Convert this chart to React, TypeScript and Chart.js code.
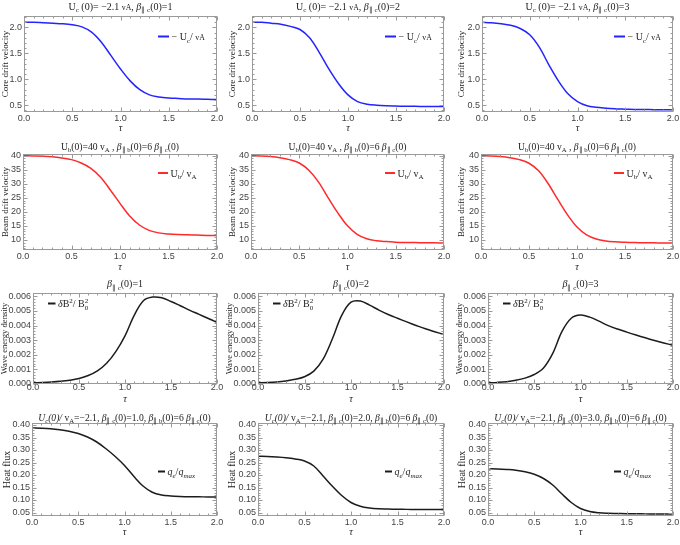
import React, { useEffect, useRef } from 'react';
import { Chart, registerables } from 'chart.js';

Chart.register(...registerables);

// ---------------- data ----------------
const tau = [0, 0.1, 0.2, 0.3, 0.4, 0.5, 0.6, 0.7, 0.8, 0.9, 1.0, 1.1, 1.2, 1.3, 1.4, 1.5, 1.6, 1.7, 1.8, 1.9, 2.0];

const coreDriftBeta1 = [2.10, 2.10, 2.09, 2.08, 2.07, 2.05, 2.01, 1.91, 1.72, 1.46, 1.20, 0.97, 0.80, 0.70, 0.66, 0.64, 0.63, 0.62, 0.62, 0.615, 0.61];
const coreDriftBeta2 = [2.10, 2.10, 2.08, 2.06, 2.02, 1.96, 1.80, 1.52, 1.20, 0.92, 0.70, 0.57, 0.52, 0.50, 0.49, 0.485, 0.48, 0.48, 0.475, 0.475, 0.475];
const coreDriftBeta3 = [2.10, 2.09, 2.07, 2.04, 1.98, 1.86, 1.62, 1.28, 0.97, 0.72, 0.57, 0.49, 0.46, 0.44, 0.43, 0.425, 0.42, 0.42, 0.415, 0.415, 0.41];

const beamDriftBeta1 = [40.0, 39.9, 39.8, 39.6, 39.2, 38.6, 37.4, 35.5, 32.3, 27.8, 23.0, 18.5, 15.3, 13.4, 12.5, 12.1, 11.9, 11.8, 11.7, 11.6, 11.6];
const beamDriftBeta2 = [40.0, 39.9, 39.7, 39.3, 38.6, 37.4, 34.8, 30.6, 25.0, 19.6, 15.0, 12.0, 10.4, 9.7, 9.4, 9.2, 9.1, 9.05, 9.0, 8.95, 8.9];
const beamDriftBeta3 = [40.0, 39.9, 39.7, 39.3, 38.6, 37.3, 34.6, 30.0, 24.4, 19.0, 14.6, 11.8, 10.3, 9.6, 9.3, 9.15, 9.05, 9.0, 8.95, 8.9, 8.9];

const waveEnergyBeta1 = [0.00008, 0.0001, 0.00013, 0.00018, 0.00026, 0.00038, 0.00058, 0.0009, 0.00142, 0.00222, 0.0033, 0.0047, 0.0057, 0.00595, 0.0059, 0.00565, 0.00536, 0.00506, 0.00478, 0.0045, 0.00423];
const waveEnergyBeta2 = [0.00008, 0.0001, 0.00014, 0.00021, 0.00032, 0.0005, 0.00088, 0.0017, 0.0031, 0.0047, 0.0056, 0.00568, 0.0054, 0.00506, 0.00476, 0.0045, 0.00425, 0.00401, 0.00378, 0.00358, 0.00339];
const waveEnergyBeta3 = [0.00008, 0.00011, 0.00016, 0.00025, 0.0004, 0.00065, 0.0011, 0.0021, 0.0036, 0.0045, 0.00472, 0.00458, 0.0043, 0.004, 0.00376, 0.00355, 0.00335, 0.00316, 0.00298, 0.00281, 0.00265];

const heatFluxBeta1 = [0.388, 0.387, 0.385, 0.381, 0.375, 0.366, 0.352, 0.332, 0.305, 0.274, 0.238, 0.195, 0.156, 0.131, 0.120, 0.116, 0.114, 0.113, 0.113, 0.112, 0.112];
const heatFluxBeta2 = [0.275, 0.274, 0.272, 0.269, 0.264, 0.256, 0.236, 0.196, 0.155, 0.118, 0.090, 0.075, 0.068, 0.065, 0.064, 0.063, 0.0625, 0.062, 0.062, 0.062, 0.062];
const heatFluxBeta3 = [0.225, 0.224, 0.222, 0.219, 0.213, 0.203, 0.186, 0.160, 0.124, 0.090, 0.066, 0.054, 0.049, 0.047, 0.046, 0.045, 0.045, 0.0445, 0.0445, 0.044, 0.044];

const xTicks = [0, 0.5, 1.0, 1.5, 2.0];
const coreTicks = [0.5, 1.0, 1.5, 2.0];
const beamTicks = [10, 15, 20, 25, 30, 35, 40];
const waveTicks = [0, 0.001, 0.002, 0.003, 0.004, 0.005, 0.006];
const heatTicks = [0.05, 0.10, 0.15, 0.20, 0.25, 0.30, 0.35, 0.40];

const betaValues = ['1', '2', '3'];
const betaDecimals = ['1.0', '2.0', '3.0'];

// ---------------- styling ----------------
const W = 680;
const H = 545;
const SERIF = '"Liberation Serif", "Times New Roman", serif';
const SANS = '"Liberation Sans", Arial, sans-serif';
const BLUE = '#2424ff';
const RED = '#ff2a2a';
const BLACK = '#1c1c1c';
const FRAME = '#9a9a9a';

type Seg = { t: string; s?: 'sub' | 'sup'; i?: boolean; small?: boolean; sub?: string };

function segFont(seg: Seg, size: number) {
  const sz = seg.s ? size * 0.7 : seg.small ? size * 0.78 : size;
  return (seg.i ? 'italic ' : '') + sz.toFixed(2) + 'px ' + SERIF;
}
function segWidth(ctx: CanvasRenderingContext2D, seg: Seg, size: number) {
  ctx.font = segFont(seg, size);
  let w = ctx.measureText(seg.t).width;
  if (seg.sub) w = Math.max(w, ctx.measureText(seg.sub).width);
  return w;
}
function drawRich(ctx: CanvasRenderingContext2D, segs: Seg[], x: number, y: number, size: number, align: 'center' | 'left') {
  const total = segs.reduce((a, s) => a + segWidth(ctx, s, size), 0);
  let cx = align === 'center' ? x - total / 2 : x;
  ctx.textBaseline = 'alphabetic';
  ctx.textAlign = 'left';
  for (const seg of segs) {
    const w = segWidth(ctx, seg, size);
    ctx.font = segFont(seg, size);
    let dy = 0;
    if (seg.s === 'sub') dy = size * 0.25;
    if (seg.s === 'sup') dy = -size * 0.4;
    ctx.fillText(seg.t, cx, y + dy);
    if (seg.sub) ctx.fillText(seg.sub, cx, y + size * 0.28);
    cx += w;
  }
}

const titleCore = (b: string): Seg[] => [
  { t: 'U' }, { t: 'c', s: 'sub' }, { t: ' (0)= \u22122.1 ' }, { t: 'vA', small: true }, { t: ', ' },
  { t: '\u03b2', i: true }, { t: '\u2225 c', s: 'sub' }, { t: '(0)=' + b },
];
const titleBeam = (): Seg[] => [
  { t: 'U' }, { t: 'b', s: 'sub' }, { t: '(0)=40 v' }, { t: 'A', s: 'sub' }, { t: ' , ' },
  { t: '\u03b2', i: true }, { t: '\u2225 b', s: 'sub' }, { t: '(0)=6 ' },
  { t: '\u03b2', i: true }, { t: '\u2225 c', s: 'sub' }, { t: '(0)' },
];
const titleWave = (b: string): Seg[] => [
  { t: '\u03b2', i: true }, { t: '\u2225 c', s: 'sub' }, { t: '(0)=' + b },
];
const titleHeat = (b: string): Seg[] => [
  { t: 'U', i: true }, { t: 'c', s: 'sub', i: true }, { t: '(0)/ ', i: true }, { t: 'v' }, { t: 'A', s: 'sub' },
  { t: '=\u22122.1, ' }, { t: '\u03b2', i: true }, { t: '\u2225 c', s: 'sub' }, { t: '(0)=' + b + ', ' },
  { t: '\u03b2', i: true }, { t: '\u2225 b', s: 'sub' }, { t: '(0)=6 ' },
  { t: '\u03b2', i: true }, { t: '\u2225 c', s: 'sub' }, { t: '(0)' },
];

const legendCore: Seg[] = [{ t: '\u2212 U' }, { t: 'c', s: 'sub' }, { t: '/ ' }, { t: 'vA', small: true }];
const legendBeam: Seg[] = [{ t: 'U' }, { t: 'b', s: 'sub' }, { t: '/ v' }, { t: 'A', s: 'sub' }];
const legendWave: Seg[] = [{ t: '\u03b4', i: true }, { t: 'B' }, { t: '2', s: 'sup' }, { t: '/ B' }, { t: '2', s: 'sup', sub: '0' }];
const legendHeat: Seg[] = [{ t: 'q', i: true }, { t: 'e', s: 'sub', i: true }, { t: '/' }, { t: 'q', i: true }, { t: 'max', s: 'sub', i: true }];

interface PanelCfg {
  L: number; T: number; R: number; B: number;
  yTitleX: number; yTitleSize: number; xTitleY: number; xTickPad: number;
  yMin: number; yMax: number; yTicks: number[]; yDec: number; yTitle: string;
  data: number[]; color: string;
  title: Seg[]; titleY: number; titleSize: number;
  legend: Seg[]; legX: number; legY: number; legLen: number;
}

// layout of the 4 rows / 3 columns (plot areas)
const rowGeom = [
  { T: 16, B: 112, xTitleY: 128.5, xTickPad: 2, titleY: 9.5, titleSize: 10, yTitleSize: 9, legOffY: 20.5, legLen: 11 },
  { T: 154, B: 250, xTitleY: 267, xTickPad: 2, titleY: 149.5, titleSize: 9.6, yTitleSize: 9, legOffY: 19, legLen: 10 },
  { T: 293, B: 384, xTitleY: 399.5, xTickPad: -1, titleY: 287, titleSize: 10, yTitleSize: 8.6, legOffY: 10.5, legLen: 7.5 },
  { T: 423, B: 516, xTitleY: 532, xTickPad: 2, titleY: 421, titleSize: 9.6, yTitleSize: 10, legOffY: 48.5, legLen: 7 },
];
const colL = [[24, 252, 482], [23, 251, 481], [33, 258, 488], [32, 258, 488]];
const colR = [217, 444, 673];
const yTitleXs = [[5.7, 233, 462], [5.2, 232.3, 461.7], [5, 230, 460], [7, 232.3, 462.3]];

const rowSpec = [
  { series: [coreDriftBeta1, coreDriftBeta2, coreDriftBeta3], color: BLUE, yMin: 0.37, yMax: 2.22, yTicks: coreTicks, yDec: 1, yTitle: 'Core drift velocity', legend: legendCore, title: (k: number) => titleCore(betaValues[k]) },
  { series: [beamDriftBeta1, beamDriftBeta2, beamDriftBeta3], color: RED, yMin: 6.4, yMax: 40.6, yTicks: beamTicks, yDec: 0, yTitle: 'Beam drift velocity', legend: legendBeam, title: (_k: number) => titleBeam() },
  { series: [waveEnergyBeta1, waveEnergyBeta2, waveEnergyBeta3], color: BLACK, yMin: 0, yMax: 0.00623, yTicks: waveTicks, yDec: 3, yTitle: 'Wave energy density', legend: legendWave, title: (k: number) => titleWave(betaValues[k]) },
  { series: [heatFluxBeta1, heatFluxBeta2, heatFluxBeta3], color: BLACK, yMin: 0.036, yMax: 0.408, yTicks: heatTicks, yDec: 2, yTitle: 'Heat flux', legend: legendHeat, title: (k: number) => titleHeat(betaDecimals[k]) },
];

const panels: PanelCfg[] = [];
rowSpec.forEach((rs, r) => {
  const g = rowGeom[r];
  for (let c = 0; c < 3; c++) {
    const L = colL[r][c];
    const R = colR[c];
    panels.push({
      L, T: g.T, R, B: g.B,
      yTitleX: yTitleXs[r][c], yTitleSize: g.yTitleSize, xTitleY: g.xTitleY, xTickPad: g.xTickPad,
      yMin: rs.yMin, yMax: rs.yMax, yTicks: rs.yTicks, yDec: rs.yDec, yTitle: rs.yTitle,
      data: rs.series[c], color: rs.color,
      title: rs.title(c), titleY: g.titleY, titleSize: g.titleSize,
      legend: rs.legend,
      legX: r === 2 ? L + 15 : R - 59,
      legY: g.T + g.legOffY, legLen: g.legLen,
    });
  }
});

function minorTicks(major: number[], min: number, max: number, div: number) {
  const step = (major[1] - major[0]) / div;
  const out: number[] = [];
  const start = Math.ceil((min - 1e-9) / step);
  const end = Math.floor((max + 1e-9) / step);
  for (let k = start; k <= end; k++) {
    const v = k * step;
    if (!major.some((m) => Math.abs(m - v) < step * 1e-3)) out.push(v);
  }
  return out;
}

function Panel({ cfg }: { cfg: PanelCfg }) {
  const ref = useRef<HTMLCanvasElement>(null);
  useEffect(() => {
    const canvas = ref.current!;
    const padLeft = Math.max(0, cfg.yTitleX - cfg.yTitleSize / 2);
    const yW = cfg.L - padLeft;
    const xH = cfg.xTitleY - cfg.B + 6;

    const deco = {
      id: 'deco',
      afterDraw(chart: any) {
        const ctx: CanvasRenderingContext2D = chart.ctx;
        const a = chart.chartArea;
        const xs = chart.scales.x;
        const ys = chart.scales.y;
        ctx.save();
        // frame
        ctx.strokeStyle = FRAME;
        ctx.lineWidth = 1;
        const l = Math.round(a.left) + 0.5, t = Math.round(a.top) + 0.5;
        const r = Math.round(a.right) - 0.5, b = Math.round(a.bottom) - 0.5;
        ctx.strokeRect(l, t, r - l, b - t);
        ctx.beginPath();
        const xMinor = minorTicks(xTicks, 0, 2, 5);
        for (const v of xTicks) {
          const p = Math.round(xs.getPixelForValue(v)) + 0.5;
          ctx.moveTo(p, b); ctx.lineTo(p, b - 4);
          ctx.moveTo(p, t); ctx.lineTo(p, t + 4);
        }
        for (const v of xMinor) {
          const p = Math.round(xs.getPixelForValue(v)) + 0.5;
          ctx.moveTo(p, b); ctx.lineTo(p, b - 2);
          ctx.moveTo(p, t); ctx.lineTo(p, t + 2);
        }
        const yMinor = minorTicks(cfg.yTicks, cfg.yMin, cfg.yMax, 5);
        for (const v of cfg.yTicks) {
          const p = Math.round(ys.getPixelForValue(v)) + 0.5;
          ctx.moveTo(l, p); ctx.lineTo(l + 4, p);
          ctx.moveTo(r, p); ctx.lineTo(r - 4, p);
        }
        for (const v of yMinor) {
          const p = Math.round(ys.getPixelForValue(v)) + 0.5;
          ctx.moveTo(l, p); ctx.lineTo(l + 2, p);
          ctx.moveTo(r, p); ctx.lineTo(r - 2, p);
        }
        ctx.stroke();
        // title
        ctx.fillStyle = '#222';
        drawRich(ctx, cfg.title, (a.left + a.right) / 2, cfg.titleY, cfg.titleSize, 'center');
        // legend
        ctx.strokeStyle = cfg.color;
        ctx.lineWidth = 2;
        ctx.beginPath();
        ctx.moveTo(cfg.legX, cfg.legY);
        ctx.lineTo(cfg.legX + cfg.legLen, cfg.legY);
        ctx.stroke();
        ctx.fillStyle = '#222';
        drawRich(ctx, cfg.legend, cfg.legX + cfg.legLen + 2.5, cfg.legY + 3.5, 10, 'left');
        ctx.restore();
      },
    };

    const chart = new Chart(canvas, {
      type: 'line',
      data: {
        datasets: [
          {
            data: tau.map((t, i) => ({ x: t, y: cfg.data[i] })),
            borderColor: cfg.color,
            borderWidth: 1.5,
            pointRadius: 0,
            tension: 0.35,
            fill: false,
          },
        ],
      },
      options: {
        animation: false,
        responsive: false,
        devicePixelRatio: 1,
        events: [],
        layout: { padding: { left: padLeft, top: cfg.T, right: W - cfg.R, bottom: H - cfg.B - xH } },
        plugins: { legend: { display: false }, title: { display: false }, tooltip: { enabled: false } },
        scales: {
          x: {
            type: 'linear',
            min: 0,
            max: 2,
            afterBuildTicks: (s: any) => { s.ticks = xTicks.map((v) => ({ value: v })); },
            afterFit: (s: any) => { s.height = xH; s.paddingLeft = 0; s.paddingRight = 0; s.paddingTop = 0; s.paddingBottom = 0; },
            ticks: {
              callback: (v: any) => Number(v).toFixed(1),
              font: { family: SANS, size: 9, lineHeight: 1 },
              color: '#444',
              padding: cfg.xTickPad,
              maxRotation: 0,
              autoSkip: false,
            },
            grid: { display: false, drawTicks: false },
            border: { display: false },
            title: { display: true, text: '\u03c4', font: { family: SERIF, size: 10, style: 'italic', lineHeight: 1.2 }, color: '#222', padding: 0 },
          },
          y: {
            type: 'linear',
            min: cfg.yMin,
            max: cfg.yMax,
            afterBuildTicks: (s: any) => { s.ticks = cfg.yTicks.map((v) => ({ value: v })); },
            afterFit: (s: any) => { s.width = yW; s.paddingLeft = 0; s.paddingRight = 0; s.paddingTop = 0; s.paddingBottom = 0; },
            ticks: {
              callback: (v: any) => Number(v).toFixed(cfg.yDec),
              font: { family: SANS, size: 9, lineHeight: 1 },
              color: '#444',
              padding: 2,
              autoSkip: false,
            },
            grid: { display: false, drawTicks: false },
            border: { display: false },
            title: { display: true, text: cfg.yTitle, font: { family: SERIF, size: cfg.yTitleSize, lineHeight: 1 }, color: '#222', padding: 0 },
          },
        },
      },
      plugins: [deco],
    } as any);
    return () => chart.destroy();
  }, [cfg]);
  return (
    <canvas
      ref={ref}
      width={W}
      height={H}
      style={{ position: 'absolute', left: 0, top: 0, width: W, height: H, pointerEvents: 'none' }}
    />
  );
}

export default function App() {
  return (
    <div style={{ position: 'fixed', left: 0, top: 0, width: W, height: H, background: '#fff', overflow: 'hidden' }}>
      {panels.map((p, i) => (
        <Panel key={i} cfg={p} />
      ))}
    </div>
  );
}
